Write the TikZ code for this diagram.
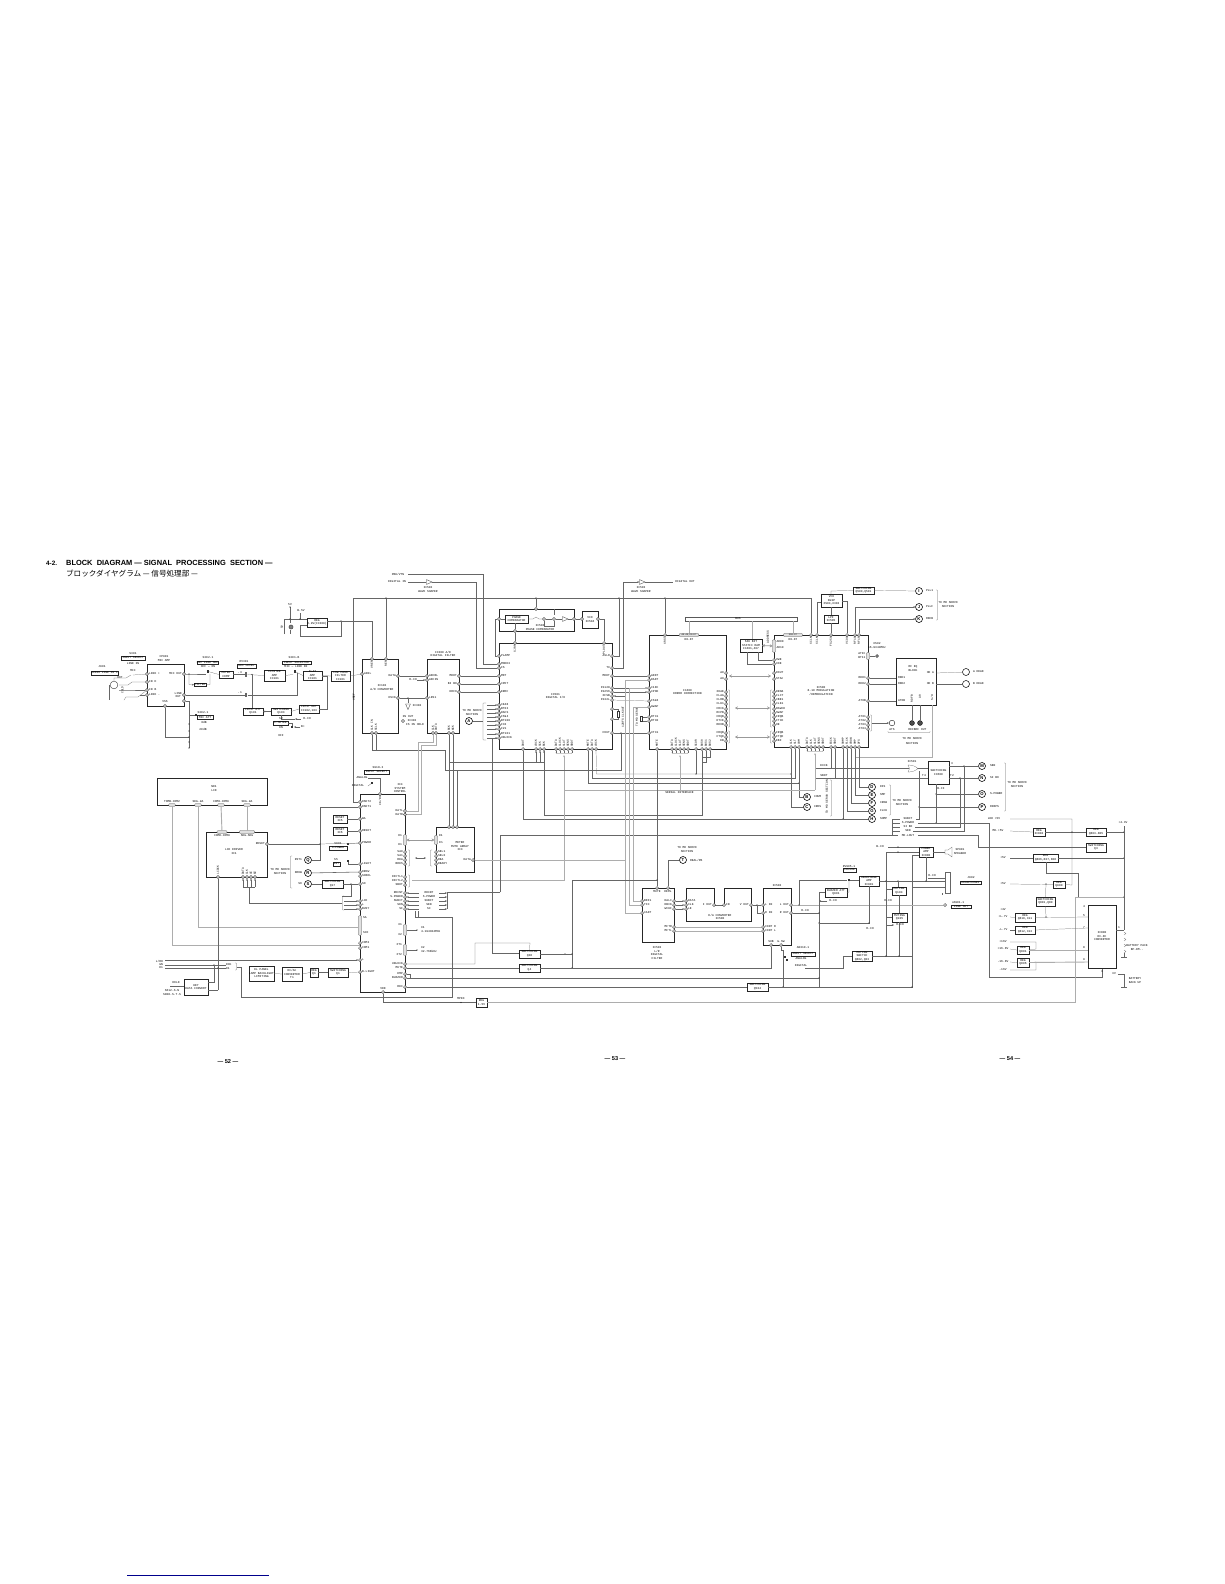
\documentclass[tikz,border=0pt]{standalone}
\usepackage{fontspec}
\setmainfont{Liberation Sans}
\setsansfont{Liberation Sans}
\setmonofont{Liberation Mono}
\newfontfamily\cjkf{Noto Sans CJK JP}
\usetikzlibrary{arrows.meta,shapes.geometric}
\newcounter{tn}
\tikzset{
 x=0.05cm,y=-0.05cm,
 >={Stealth[length=3pt,width=2.4pt]},
 w/.style={line width=.32pt,draw=black!60},
 bus/.style={line width=1.3pt,draw=black!32},
 busa/.style={line width=1.1pt,draw=black!40,{Stealth[length=4pt,width=4.5pt]}-{Stealth[length=4pt,width=4.5pt]}},
 tx/.style={font=\ttfamily\fontsize{4.2}{5}\selectfont,inner sep=0pt,outer sep=0pt,align=center,text=black},
 bxs/.style={draw=black!85,line width=.5pt,fill=white,inner sep=0pt,outer sep=0pt,align=center,font=\ttfamily\fontsize{4.2}{5}\selectfont,text=black},
 ics/.style={line width=.9pt,draw=black!85},
 pn/.style={circle,draw=black!70,fill=black!18,line width=.3pt,minimum size=4.6pt,inner sep=0pt,outer sep=0pt},
 ltr/.style={circle,draw=black,line width=.8pt,fill=white,minimum size=10pt,inner sep=0pt,outer sep=0pt,font=\sffamily\bfseries\fontsize{6}{6}\selectfont},
 bar/.style={rounded corners=1.2pt,draw=black!70,fill=black!12,line width=.3pt,inner sep=0pt,outer sep=0pt},
 swn/.style={rectangle,fill=black!80,minimum width=3pt,minimum height=3.5pt,inner sep=0pt,outer sep=0pt},
 buf/.style={isosceles triangle,isosceles triangle stretches,draw=black!85,line width=.4pt,fill=white,minimum width=7pt,minimum height=8pt,inner sep=0pt,outer sep=0pt},
}
\newcommand{\lb}[4][]{\stepcounter{tn}\node[tx,#1] (t\arabic{tn}) at (#2,#3) {#4};}
\newcommand{\bx}[7][]{\pgfmathsetmacro\bw{(#5-#3)*0.05}\pgfmathsetmacro\bh{(#6-#4)*0.05}%
 \node[bxs,#1,minimum width=\bw cm,minimum height=\bh cm] (#2) at ({(#3+#5)/2},{(#4+#6)/2}) {#7};}
\newcommand{\pn}[3]{\node[pn] (#1) at (#2,#3) {};}
\newcommand{\pL}[4]{\pn{#1}{#2}{#3}\lb[anchor=west]{#2+2.2}{#3}{#4}}
\newcommand{\pR}[4]{\pn{#1}{#2}{#3}\lb[anchor=east]{#2-2.2}{#3}{#4}}
\newcommand{\pT}[4]{\pn{#1}{#2}{#3}\lb[rotate=90,anchor=east]{#2}{#3+2.2}{#4}}
\newcommand{\pB}[4]{\pn{#1}{#2}{#3}\lb[rotate=90,anchor=west]{#2}{#3-2.2}{#4}}
\newcommand{\dt}[2]{\fill[black!90] (#1,#2) circle (.7);}
\newcommand{\sw}[3]{\node[swn] (#1) at (#2,#3) {};}
\newcommand{\cpc}[2]{\draw[w] (#1-.6,#2-2.2) -- (#1-.6,#2+2.2) (#1+.6,#2-2.2) -- (#1+.6,#2+2.2);}
\newcommand{\brR}[3]{\draw[line width=.3pt,black!60,rounded corners=.8pt] (#1,#2) -- (#1+1.5,#2) -- (#1+1.5,#3) -- (#1,#3);}
\newcommand{\brL}[3]{\draw[line width=.3pt,black!60,rounded corners=.8pt] (#1,#2) -- (#1-1.5,#2) -- (#1-1.5,#3) -- (#1,#3);}
\newcommand{\brD}[3]{\draw[line width=.3pt,black!60,rounded corners=.8pt] (#1,#3) -- (#1,#3+1.5) -- (#2,#3+1.5) -- (#2,#3);}
\begin{document}
\begin{tikzpicture}
\useasboundingbox (0,0) rectangle (1224,1584);
\fill[white] (0,0) rectangle (1224,1584);
%%% titles
\node[anchor=west,inner sep=0pt,font=\sffamily\bfseries\fontsize{9}{8}\selectfont] (ttl0) at (46,563) {4-2.};
\node[anchor=west,inner sep=0pt,font=\sffamily\bfseries\fontsize{10.6}{8}\selectfont] (ttl1) at (66,563) {BLOCK\ \ DIAGRAM — SIGNAL\ \ PROCESSING\ \ SECTION —};
\node[anchor=west,inner sep=0pt,font=\cjkf\fontsize{10.8}{8}\selectfont] (ttl2) at (66,574) {ブロックダイヤグラム — 信号処理部 —};
\node[inner sep=0pt,font=\sffamily\bfseries\fontsize{8}{8}\selectfont] (pg52) at (228,1062) {— 52 —};
\node[inner sep=0pt,font=\sffamily\bfseries\fontsize{8}{8}\selectfont] (pg53) at (615,1059) {— 53 —};
\node[inner sep=0pt,font=\sffamily\bfseries\fontsize{8}{8}\selectfont] (pg54) at (1010,1059) {— 54 —};
\draw[line width=1pt,blue!55!black] (127,1575) -- (269,1575);

%%% ---- input section
\bx[ics]{cp901}{147}{664}{184}{706}{}
\lb{164}{657}{CP901}\lb{164}{660.5}{MIC AMP}
\pL{cpa}{147}{674}{LINE +}\pL{cpb}{147}{682}{IN H}\pL{cpc}{147}{690}{IN B}\pL{cpd}{147}{695}{LINE -}
\pR{cpo}{184}{674}{MIC OUT}\pR{cpl}{184}{695}{LINE\\OUT}\pn{cpm}{184}{701}
\pn{cpv}{165}{706}
\lb{165}{701.5}{VSS}
\lb{102}{667}{J901}
\bx{j901}{91}{671}{118}{675}{AUDIO LINE IN L}
\node[circle,draw=black!85,line width=.5pt,minimum size=11pt,inner sep=0pt] (hd) at (114,685) {};
\lb{120}{678}{HOT}
\lb{133}{654}{S301}\bx{s301}{121}{656}{145}{660}{INPUT SELECT}
\lb{133}{663.5}{LINE IN}\lb{133}{671}{MIC}
\lb[rotate=90]{122.5}{690}{COLD}
\coordinate (gj) at (108.7,700);
\draw[w] (hd) -- (108.7,685) -- (gj);
\draw[w] (133,675) -- (cpa);
\draw[w] (hd.north) -- (114,678) -- (126,678) -- (131,675);
\draw[w] (119,685) -- (128,685) -- (132,682) -- (cpb);
\draw[w] (119,690) -- (126,690) -- (cpc);
\draw[w] (cpc) -- (138,697) -- (126,697) -- (124,700);
\draw[w] (cpd) -- (140,695);
%% mic out
\draw[w] (cpo) -- (189,674) -- (205.5,674);
\dt{189}{674}
\lb{208}{658}{S302-1}\bx{s302}{197}{661}{218}{664.5}{MIC LINE SEL}
\lb{208}{667}{OFF — ON}
\sw{sw1}{208}{671.5}
\bx{filt}{194}{683}{206}{686.5}{FILTER}
\draw[w,->] (189,674) -- (189,684.5) -- (filt.west);
\draw[w] (filt.east) -- (210,684.5) -- (210,674);
\draw[w] (sw1) -- (219,674.5);
\bx{mut}{219}{671}{233}{678}{MUTER\\COMP}
\lb{244}{662}{RV301}\bx{rv301}{237}{664}{256}{668}{REC LEVEL}
\bx{lima}{264}{670}{285}{681}{LIMITER\\AMP\\IC101}
\draw[w] (mut.east) -- (244.5,674.5);
\cpc{246}{674.5}
\draw[w] (247.5,674.5) -- (lima.west);
\dt{252}{674.5}
\lb{240}{672.5}{-\,3}
\lb{294}{658}{S301-B}\bx{s301b}{282}{661}{311}{664.5}{INPUT SELECTOR}
\lb{296}{667}{MIC — LINE IN}
\sw{sw2}{295}{671.5}
\draw[w] (lima.east) -- (293,674.5);
\bx{flat}{303}{671}{322}{680}{FLAT\\AMP\\IC101}
\bx{lpf}{331}{671}{350}{681}{LOW PASS\\FILTER\\IC101}
\draw[w] (sw2) -- (flat.west);
\draw[w] (flat.east) -- (lpf.west);
\draw[w] (cpl) -- (244.5,695);
\cpc{246}{695}
\lb{240}{693}{-\,1}
\draw[w] (247.5,695) -- (297,695) -- (297,673);
\bx{latt}{243}{708}{263}{715}{LIMIT ATT\\Q101}
\bx{sq103}{271}{708}{291}{715}{SWITCHING\\Q103}
\bx{ldet}{299}{705}{319}{713}{LIMIT DET\\IC102,103}
\draw[w] (252,674.5) -- (252,708);
\draw[w,->] (sq103.west) -- (latt.east);
\draw[w] (ldet.west) -- (sq103.east);
\draw[w] (ldet.east) -- (327,709) -- (327,676) -- (322,676);
\draw[w] (281,715) -- (281,719) -- (295,719);
\draw[w,<-] (295,719) -- (301,719);
\lb{307}{719}{R-CH}
\bx{lmet}{273}{721}{288}{725}{L.METER}
\lb{281}{718.5}{S2}
\lb{281}{728}{ON}\lb{281}{736}{OFF}
\sw{sw3}{292}{727}
\draw[w,->] (300,727) -- (294,727);
\lb{303}{727}{B+}
\draw[w] (288,723) -- (292,723) -- (sw3);
%% att
\draw[w] (cpm) -- (189,701) -- (189,748);
\draw[w] (189,715) -- (195,715);
\sw{sw4}{196}{715}
\lb{203}{713}{S302-1}\bx{sat}{197}{715.5}{213}{719}{MIC ATT}
\lb{204}{722}{0dB}\lb{203}{729}{20dB}
\draw[w] (cpv) -- (165,737) -- (189,737);
\foreach \yy in {724,731,737,742}{\dt{189}{\yy}}
\dt{189}{748}
%% regulator top
\lb{290}{605}{5V}\lb{301}{611}{B.5V}
\bx{reg1}{307}{618}{327}{627}{REG\\6.9V(IC309)}
\coordinate (r5) at (290,607);
\coordinate (rb) at (300,613);
\draw[w] (r5) -- (290,623);
\draw[w] (rb) -- (300,619);
\draw[w] (284,634) -- (284,619) -- (307,619);
\dt{290}{619}\dt{300}{619}\dt{290}{607}
\node[circle,draw=black!85,fill=black!50,line width=.4pt,minimum size=6pt,inner sep=0pt] (q1) at (291,627) {};
\draw[w] (290,630) -- (290,634);
\dt{341}{621}
\draw[w] (341,621) -- (341,636) -- (300,636) -- (300,625) -- (307,625);
\draw[w] (327,621) -- (372,621);
\lb[rotate=90]{282}{627}{5V}
%%% ---- A/D + filter
\bx[ics]{ic102}{362}{659}{398}{733}{}
\lb{382}{686}{IC102}\lb{382}{689.5}{A/D CONVERTER}
\pT{adr}{372}{659}{VREF}\pT{adf}{386}{659}{REF}
\pL{ain}{362}{674}{AINL}\pR{add}{398}{676}{DATA}\pR{adl}{398}{698}{HSCK}
\pB{adk}{372}{733}{CLK IN}\pB{ads}{376}{733}{SCLK}
\bx[ics]{ic300}{427}{659}{459}{733}{}
\lb{443}{652}{IC300 A/D}\lb{443}{655.5}{DIGITAL FILTER}
\pL{fa}{427}{676}{ADCBL}\pL{fb}{427}{680}{ADCIN}\pL{fc}{427}{698}{LRS1}
\pR{fd}{459}{676}{MDDT}\pR{fe}{459}{684}{BI BO}\pR{ff}{459}{692}{ERFO}
\pB{fg}{433}{733}{CLK}\pB{fh}{436}{733}{DATA}\pB{fi}{449}{733}{BCK}\pB{fj}{453}{733}{WCK}
\draw[w] (lpf.east) -- (ain);
\draw[w] (adr) -- (372,621);
\draw[w] (add) -- (fa);
\draw[w,->] (417,680) -- (fb);
\lb{413}{680}{R-CH}
\draw[w] (adl) -- (fc);
\dt{408}{698}
\draw[w] (408,698) -- (408,703);
\node[buf,shape border rotate=270] (b301) at (408,705.5) {};
\lb{417}{706}{IC302}
\lb{408}{717}{IN OUT}
\lb{415}{725}{FS IN HOLD}
\node[pn] (fsp) at (403,721) {};
\lb{412}{721}{IC302}
%% VREF rail
\draw[w] (353,802) -- (353,598) -- (811,598);
\draw[w] (adf) -- (386,598);
\foreach \xx in {386,536,619,665}{\dt{\xx}{598}}
\lb[rotate=90]{354}{697}{VREF}
%%% ---- top
\lb{398}{574}{PBK/VTN}\lb{397}{582}{DIGITAL IN}
\node[buf] (b502) at (428,582) {};
\lb{428}{588}{IC502}\lb{428}{592}{WAVE SHAPER}
\coordinate (pbk) at (408,574);
\coordinate (dgi) at (408,582);
\draw[w] (dgi) -- (b502.west);
\node[buf] (b503) at (641,582) {};
\lb{641}{588}{IC503}\lb{641}{592}{WAVE SHAPER}
\lb{685}{582}{DIGITAL OUT}
\coordinate (dgo) at (673,582);
\draw[w] (b503.east) -- (dgo);
%%% ---- digital I/O
\bx[ics]{ic501}{499}{643}{612}{749}{IC501\\DIGITAL I/O}
\foreach \n/\y/\t in {pa/656/PLAMP,pb/664/MODE3,pc/668/FS,pd/676/MDT,pe/684/CPDT,pf/692/ERRF,pg/705/CK48,ph/709/BT03,pi/713/DAFS,pj/717/FS94,pk/721/BT100,pl/725/F33,pm/729/F21,pn1/734/BT101,po/738/UNLOCK}{\pL{\n}{499}{\y}{\t}}
\foreach \n/\y/\t in {qa/656/ASLR,qb/668/TX,qc/676/MDDT,qd/688/FS128,qe/692/FS256,qf/696/XFSB,qg/700/FS32L,qh/709/,qi/719/,qj/733/FOUT}{\pR{\n}{612}{\y}{\t}}
\pT{sjr}{515}{643}{SJRP}\pT{plo}{604}{643}{PLOUT}
\foreach \n/\x/\t in {ra/523/DOUT,rb/536/LRCK,rc/540/SCK,rd/544/BCK,re/556/DATA,rf/560/CLOCK,rg/564/XLAT,rh/568/SENS,ri/572/SBDT,rj/588/MUTE,rk/592/DATA,rl/596/LRCK}{\pB{\n}{\x}{749}{\t}}
\draw[w] (pbk) -- (483,574) -- (483,664) -- (pb);
\draw[w] (b502.east) -- (476,582) -- (476,668) -- (pc);
\draw[w] (fd) -- (pd);\draw[w] (fe) -- (pe);\draw[w] (ff) -- (pf);
%% servo bracket
\node[ltr] (cA) at (469,721) {A};
\lb{472}{711}{TO MD SERVO}\lb{472}{714.5}{SECTION}
\draw[line width=.3pt,black!60,rounded corners=.8pt] (486,703) -- (483,703) -- (483,740) -- (486,740);
\draw[w] (cA) -- (483,721);
\foreach \n in {pg,ph,pi,pj,pk,pl,pm,pn1,po}{\draw[w,<-] (\n) -- ++(-12,0);}
%% phase comp
\draw[ics] (499,609) rectangle (574,631);
\bx[ics]{pcmp}{505}{615}{528}{623}{PHASE\\COMPARATOR}
\lb{540}{626}{IC503}\lb{540}{629.5}{PHASE COMPARATOR}
\pn{ph1}{499}{619}\pn{ph2}{536}{609}\pn{ph3}{515}{631}\pn{ph4}{544}{619}\pn{ph5}{554}{619}\pn{ph6}{574}{619}
\bx[line width=.8pt]{vco1}{582}{611}{598}{628}{VCO\\IC504}
\pn{ph7}{582}{619}\pn{ph8}{598}{619}
\draw[w] (ph1) -- (pcmp.west);
\draw[w] (pcmp.east) -- (533,619) -- (536,617) -- (539,619) -- (ph4);
\draw[w] (ph4) -- (ph5);
\draw[w] (ph4) -- (544,626) -- (554,626) -- (ph5);
\draw[w,line width=.7pt] (554,609) -- (554,615);
\node[buf] (bvc) at (564,619) {};
\draw[w] (ph5) -- (bvc.west);\draw[w] (bvc.east) -- (ph6);
\draw[w] (ph6) -- (ph7);
\draw[w] (ph8) -- (604,619) -- (plo);
\draw[w] (ph1) -- (495,619) -- (495,656) -- (pa);
\draw[w] (ph3) -- (sjr);
\draw[w] (536,598) -- (ph2);
\draw[w] (515,623) -- (ph3);
%% right of 501
\draw[w] (qa) -- (619,656) -- (619,598);
\draw[w,->] (qb) -- (623,668) -- (623,582) -- (b503.west);
%%% ---- error correction
\bx[ics]{ic400}{649}{635}{726}{749}{IC400\\ERROR CORRECTION}
\foreach \n/\y/\t in {sa/676/ADDT,sb/680/DADT,sc/688/C1DC,sd/692/CPOD,se/701/FS94,sf/707/GWAP,sg/717/RT31,sh/721/RT30,si/733/XT31}{\pL{\n}{649}{\y}{\t}}
\foreach \n/\y/\t in {ua/692/XOAE,ub/696/FLAG,uc/700/CLRB,ud/704/CLK1,ue/709/FRCK,uf/713/RCPB,ug/717/FRQB,uh/721/ETCE,ui/725/RDOB,uj/733/FRQB,uk/737/FTQD,ul/741/EB}{\pR{\n}{726}{\y}{\t}}
\pR{ta}{726}{673}{A0}\pR{tb}{726}{679}{A9}
\pT{xr}{665}{635}{XRST}
\node[bar,minimum width=28pt,minimum height=4.4pt] (xbar) at (689,635) {\ttfamily\fontsize{3.2}{3.2}\selectfont A0-A9,D0-D7};
\lb{689}{640}{D0-D7}
\foreach \n/\x/\t in {va/657/MUTE,vb/672/DATA,vc/676/CLOCK,vd/680/XLAT,ve/684/SENS,vf/688/SBDT,vg/696/SCOR,vh/702/BUS0,vi/706/BUS1,vj/710/BUS2}{\pB{\n}{\x}{749}{\t}}
\draw[w] (xr) -- (665,598);
\draw[w] (qc) -- (sa);
\draw[w,->] (qd) -- (sc);\draw[w,->] (qe) -- (sd);
\draw[w,<-] (qf) -- (625,696);
\draw[w] (qg) -- (se);
\draw[w] (qh) -- (618,709) -- (618,719) -- (qi);
\node[draw=black!80,line width=.4pt,minimum width=2pt,minimum height=8pt,inner sep=0pt,fill=white] (xt1) at (618,714) {};
\lb[rotate=90]{623}{717}{128FS CLKOUT}
\lb[rotate=90]{637}{717}{TO MD SERVO}
\draw[w] (sg) -- (641,717) -- (641,721) -- (sh);
\node[draw=black!80,line width=.4pt,minimum width=2pt,minimum height=7pt,inner sep=0pt,fill=white] (xt2) at (641,719) {};
\draw[w] (qj) -- (si);\dt{621}{733}
%%% ---- BUS
\draw[draw=black!65,line width=.4pt,fill=white] (685,617) rectangle (797,621);
\lb{738}{619}{BUS}
%%% ---- SRAM
\bx[line width=.8pt]{sram}{740}{639}{762}{652}{64K BIT\\STATIC RAM\\IC401,407}
\draw[bus] (689,621) -- (689,633);
\draw[bus] (752,621) -- (752,639);
\draw[bus] (793,621) -- (793,633);
\lb[rotate=90]{768}{637}{ADDRESS}
%%% ---- modulation
\bx[ics]{ic500}{774}{635}{868}{747}{IC500\\8-10 MODULATION\\/DEMODULATION}
\node[bar,minimum width=4pt,minimum height=18pt] (adb) at (774,646) {};
\lb[anchor=west]{776.5}{642}{AD00}\lb[anchor=west]{776.5}{648}{AD10}
\foreach \n/\y/\t in {wa/660/XWE,wb/664/XOE,xa/692/DRAB,xb/696/FLCT,xc/700/CBE1,xd/704/CLK1,xe/709/RAWCD,xf/713/SWAP,xg/717/FRQB,xh/721/FTCE,xi/725/OE,xj/733/FRQB,xk/737/FTQD,xl/741/EBF}{\pL{\n}{774}{\y}{\t}}
\pL{wc}{774}{673}{DOUT}\pL{wd}{774}{679}{STAn}
\node[bar,minimum width=27pt,minimum height=4.4pt] (dbar) at (793,635) {\ttfamily\fontsize{3.2}{3.2}\selectfont XD0-D7};
\lb{793}{640}{D0-D7}
\pT{y1}{811}{635}{XCLK}\pT{y2}{817}{635}{XCLK}\pT{y3}{831}{635}{FS256}\pT{y4}{847}{635}{VCOO}\pT{y5}{855}{635}{RF18}\pT{y6}{859}{635}{RF1F}
\node[bar,minimum width=4.4pt,minimum height=10pt] (abar) at (868,656) {};
\lb[anchor=east]{865.5}{654}{ATIC}\lb[anchor=east]{865.5}{658}{BT11}
\pR{za}{868}{678}{RDD1}\pR{zb}{868}{684}{RDD2}\pR{zc}{868}{701}{ATOB}
\pR{zd}{868}{717}{AT01}\pR{ze}{868}{721}{AT02}\pR{zf}{868}{725}{AT03}\pR{zg}{868}{729}{AT04}
\foreach \n/\x/\t in {da/791/CLK,db/795/XLT,dc/799/CHM,de/807/DATA,df/811/CLK,dg/815/XLAT,dh/819/SENS,di/823/SBDT,dj/831/EXCK,dk/835/SBDT,dl/843/SHMP,dm/847/FLCK,dn/851/CROW,do/855/SMP,dp/859/DFS}{\pB{\n}{\x}{747}{\t}}
\draw[w] (y1) -- (811,598);
\draw[w] (747,652) -- (747,664) -- (wb);
\draw[w] (758,652) -- (758,660) -- (wa);
\draw[busa] (sram.east) -- (adb.west);
\draw[busa] (729,676) -- (771,676);
\draw[busa] (735,708) -- (770,708);
\draw[busa] (735,737) -- (770,737);
\brR{728}{690}{727}\brR{728}{731}{743}
\brL{772}{690}{727}\brL{772}{731}{743}
\brR{870}{715}{731}
%% VCO top
\bx[line width=.7pt]{vcd}{821}{594}{842}{607}{VCO\\DGSP\\XS04,X302}
\bx{lpf2}{824}{615}{838}{623}{LPF\\IC505}
\bx[line width=.7pt]{swq}{853}{587}{874}{594}{SWITCHING\\Q500,Q501}
\draw[w] (831,607) -- (831,615);
\draw[w] (831,623) -- (y3);
\draw[w] (y2) -- (817,602) -- (821,602);
\draw[w] (842,601) -- (847,601) -- (y4);
\draw[w] (831,594) -- (831,591) -- (swq.west);
\node[ltr] (cI) at (919,591) {I};\node[ltr] (cJ) at (919,607) {J};\node[ltr] (cK) at (919,619) {K};
\lb[anchor=west]{926}{591}{PLL1}\lb[anchor=west]{926}{607}{PLLF}\lb[anchor=west]{926}{619}{RDFB}
\brR{936}{590}{620}
\lb{948}{603}{TO MD SERVO}\lb{948}{607}{SECTION}
\draw[w] (swq.east) -- (cI);
\draw[w,<-] (cJ) -- (y5 |- cJ);
\draw[w] (y5 |- cJ) -- (y5);
\draw[w,<-] (cK) -- (y6 |- cK);
\draw[w] (y6 |- cK) -- (y6);
%% crystal
\lb{877}{644}{XS02}\lb{877}{648}{16.9344MHz}
\node[pn,fill=black!50] (xs) at (877,656) {};
\draw[w] (abar) -- (xs);
%% RF EQ
\bx[ics]{rfe}{896}{658}{936}{705}{}
\lb{913}{667}{RF EQ}\lb{913}{670.5}{BLOCK}
\lb[anchor=west]{898}{678}{RDD1}\lb[anchor=west]{898}{684}{RDD2}\lb[anchor=west]{898}{701}{ATOB}
\lb[anchor=east]{934}{673}{HD A}\lb[anchor=east]{934}{684}{HD B}
\draw[w] (za) -- (rfe.west |- za);\draw[w] (zb) -- (rfe.west |- zb);\draw[w] (zc) -- (rfe.west |- zc);
\node[circle,draw=black,line width=.7pt,fill=white,minimum size=10pt,inner sep=0pt] (hda) at (966,672) {};
\node[circle,draw=black,line width=.7pt,fill=white,minimum size=10pt,inner sep=0pt] (hdb) at (966,684) {};
\lb[anchor=west]{973}{672}{A HEAD}\lb[anchor=west]{973}{684}{B HEAD}
\draw[w] (936,673) -- (hda);\draw[w] (936,684) -- (hdb);
\lb[rotate=90,anchor=east]{912}{695}{RDFB}
\lb[rotate=90,anchor=east]{920}{695}{A0}
\lb[rotate=90,anchor=east]{932}{695}{S/H}
\node[circle,draw=black,line width=.5pt,fill=black!70,minimum size=7pt,inner sep=0pt] (cr1) at (912,723) {};
\node[circle,draw=black,line width=.5pt,fill=black!70,minimum size=7pt,inner sep=0pt] (cr2) at (920,723) {};
\node[circle,draw=black,line width=.5pt,fill=white,minimum size=8pt,inner sep=0pt] (cats) at (892,723) {};
\lb{892}{729.5}{ATS}\lb{912}{729.5}{RDFB}\lb{921}{729.5}{RF OUT}
\brD{888}{930}{731}
\lb{912}{739}{TO MD SERVO}\lb{912}{744}{SECTION}
\draw[w] (cr1) -- (912,705);\draw[w] (cr2) -- (920,705);
\draw[w,->] (872,723) -- (cats);
\draw[bus] (932,705) -- (932,757) -- (855,757) -- (do);
%%% ---- mid wires
\node[ltr] (cB) at (807,797) {B};\node[ltr] (cC) at (807,807) {C};
\lb[anchor=west]{814}{797}{CHUM}\lb[anchor=west]{814}{807}{CRDS}
\lb[rotate=90]{827}{797}{TO MD SERVO SECTION}
\brR{830}{780}{816}
\node[ltr] (cD) at (872,787) {D};\node[ltr] (cE) at (872,795) {E};\node[ltr] (cF) at (872,803) {F};\node[ltr] (cG) at (872,811) {G};\node[ltr] (cH) at (872,819) {H};
\lb[anchor=west]{880}{787}{DFS}\lb[anchor=west]{880}{795}{SMP}\lb[anchor=west]{880}{803}{CROW}\lb[anchor=west]{880}{811}{FLCK}\lb[anchor=west]{880}{819}{SHMP}
\brR{889}{785}{815}
\lb{902}{801}{TO MD SERVO}\lb{902}{805}{SECTION}
\draw[w] (dp) -- (859,787) -- (cD);
\draw[w] (do) -- (855,795) -- (cE);
\draw[w] (dn) -- (851,803) -- (cF);
\draw[w] (dm) -- (847,811) -- (cG);
\draw[w] (dl) -- (843,819);\dt{843}{819}
\draw[w] (ra) -- (523,819) -- (cH);
\draw[w] (rd) -- (544,815) -- (702,815) -- (vh);
\draw[w] (544,762) -- (449,762);
\foreach \n in {rb,rc,rd}{\draw[w,->] (\n |- 0,762) -- (\n);}
\draw[w] (rj) -- (588,783) -- (799,783);\dt{799}{783}
\draw[w] (rk) -- (592,778) -- (795,778) -- (db);
\draw[w] (rl) -- (596.5,774) -- (791,774);\dt{791}{774}
\draw[w] (vg) -- (696,774);\dt{696}{774}
\draw[w] (da) -- (791,807) -- (cC);
\draw[w] (dc) -- (799,797) -- (cB);
\draw[w] (vi) -- (706,762) -- (702,762);
\draw[w] (vj) -- (710,757) -- (702,757);
\lb{679.5}{793}{SERIAL INTERFACE}
\brD{556}{572}{752}\brD{672}{688}{752}\brD{807}{823}{750}
\foreach \n in {re,rf,rg,rh,ri,vb,vc,vd,ve,vf,de,df,dg,dh,di}{\draw[w] (\n) -- ++(0,3.5);}
\draw[bus,<-] (564,755) -- (564,880) -- (412,880);
\draw[bus] (564,790) -- (815,790);
\draw[bus,<-] (680,755) -- (680,790);
\draw[bus,<-] (815,753) -- (815,790);
\draw[w] (621,733) -- (621,770) -- (445,770) -- (445,750) -- (372,750) -- (adk);
\draw[w] (ads) -- (376,750);
\draw[w] (fi) -- (449,827);
\draw[w] (fj) -- (453,827);
\draw[w] (457,770) -- (457,827);
\draw[w] (po) -- (492,738) -- (492,953) -- (519,953);
%% gate and switching
\lb{824}{766}{EXCK}\lb{824}{776}{SBDT}
\draw[w] (dj) -- (831,768.5);
\draw[w] (dk) -- (835,778);
\draw[w] (816,768.5) -- (909,768.5);
\draw[w] (816,778) -- (928,778);
\draw[w,fill=white] (908,765) .. controls (912,765) and (915,766) .. (918,768.5) .. controls (915,771) and (912,772) .. (908,772) .. controls (910,770) and (910,767) .. (908,765);
\lb{912}{762}{IC501}
\bx[ics]{sc1}{928}{761}{949}{784}{SWITCHING\\IC600}
\draw[w] (918,768.5) -- (928,768.5);
\lb{952}{764}{3}\lb{952}{775.5}{T2}\lb{924}{775.5}{T4}\lb{941}{789}{B-II}
\node[ltr] (cM) at (982,766) {M};\node[ltr] (cN) at (982,778) {N};\node[ltr] (cO) at (982,794) {O};\node[ltr] (cP) at (982,807) {P};
\lb[anchor=west]{990}{766}{SEN}\lb[anchor=west]{990}{778}{SI BO}\lb[anchor=west]{990}{794}{S.POWER}\lb[anchor=west]{990}{807}{RIBPS}
\brR{1004}{763}{811}
\lb{1017}{783}{TO MD SERVO}\lb{1017}{787}{SECTION}
\draw[w] (949,766) -- (cM);\draw[w] (949,778) -- (cN);
\dt{964}{766}\dt{960}{778}\dt{936}{794}\dt{919}{807}\dt{936}{823}
\draw[w] (936,794) -- (cO);\draw[w] (919,807) -- (cP);
\lb{908}{819}{SUBCT}\lb{908}{823}{S.POWER}\lb{908}{827}{SI BO}\lb{908}{831}{SEN}\lb{908}{835.5}{MD.LOUT}
\draw[w] (892,819) -- (892,835.5) ;
\foreach \yy in {819,823,827,831}{\draw[w] (892,\yy) -- (900,\yy);}
\draw[w] (919,771) -- (919,819) -- (916,819);
\draw[w] (936,784) -- (936,823);
\draw[w] (918,823) -- (989,823) -- (989,977) -- (1102,977) -- (1102,968);
\draw[w] (915,827) -- (960,827) -- (960,778);
\draw[w] (913,831) -- (964,831) -- (964,766);
\draw[w] (918,835.5) -- (978,835.5) -- (978,847) -- (1086,847);
\draw[w] (892,835.5) -- (898,835.5);
\draw[w] (500,892) -- (500,835.5) -- (892,835.5);
%%% ---- D/A section
\bx[ics]{ic503}{642}{888}{674}{942}{}
\lb{657}{948}{IC503}\lb{657}{951.5}{L/R}\lb{657}{955}{DIGITAL}\lb{657}{958.5}{FILTER}
\pB{mm}{657}{888}{}\lb{657}{891.5}{MUTE}\pB{ml}{668}{888}{}\lb{668}{891.5}{DEML}
\pL{cd1}{642}{901}{BDF1}\pL{cd2}{642}{905}{TXC}\pL{cd3}{642}{913}{CADT}
\pR{ce1}{674}{901}{DALC}\pR{ce2}{674}{905}{DBCK}\pR{ce3}{674}{909}{WCKF}
\pR{ce4}{674}{927}{MFTR}\pR{ce5}{674}{931}{MFTL}
\draw[bus] (sb) -- (625,680) -- (625,913) -- (cd3);
\draw[bus] (sc) -- (629,688) -- (629,905) -- (cd2);
\draw[bus] (sf) -- (633,707) -- (633,901) -- (cd1);
\draw[ics] (686,888) -- (714,888) -- (714,905) -- (724,905) -- (724,888) -- (751,888) -- (751,921) -- (686,921) -- cycle;
\pL{da1}{686}{901}{DATA}\pL{da2}{686}{905}{CLK}\pL{da3}{686}{909}{LE}
\pR{da4}{714}{905}{I OUT}\pL{da5}{724}{905}{IN}\pR{da6}{751}{905}{V OUT}
\lb{720}{915}{D/A CONVERTER}\lb{720}{919}{IC500}
\draw[w] (da4) -- (da5);
\draw[w,->] (ce1) -- (da1);\draw[w,->] (ce2) -- (da2);\draw[w,->] (ce3) -- (da3);
\bx[ics]{ic502}{763}{888}{791}{945}{}
\lb{777}{885.5}{IC502}
\pL{ea}{763}{905}{L IN}\pL{eb}{763}{913}{R IN}\pL{ec}{763}{927}{CONT R}\pL{ed}{763}{931}{CONT L}
\pR{ee}{791}{905}{L OUT}\pR{ef}{791}{913}{R OUT}
\pB{eg}{771}{945}{}\pB{eh}{781}{945}{}\lb{771}{941.5}{SUB}\lb{781}{941.5}{G.SW}
\draw[w] (da6) -- (ea);\dt{757}{905}\draw[w] (757,905) -- (757,913) -- (eb);
\draw[bus,line width=.9pt] (ce4) -- (ec);\draw[bus,line width=.9pt] (ce5) -- (ed);
\draw[w] (va) -- (mm);
\dt{657}{880}
\draw[w] (657,880) -- (572,880) -- (572,968);
\node[ltr] (cT) at (683,860) {T};
\lb[anchor=west]{690}{860}{REAL/PB}
\lb{687}{848}{TO MD SERVO}\lb{687}{852}{SECTION}
\draw[w] (ml) -- (668,860) -- (cT);
\bx[line width=.7pt]{s5a}{519}{950}{540}{958}{SWITCHING\\Q28}
\bx[line width=.7pt]{s5b}{519}{964}{540}{972}{SWITCHING\\Q4}
\bx[line width=.7pt]{s5c}{747}{983}{768}{991}{SWITCHING\\Q504}
\dt{572}{954}\dt{572}{968}\dt{565}{954}
\draw[w] (s5a.east) -- (572,954);
\draw[w] (s5b.east) -- (771,968) -- (eg);
\draw[w] (eh) -- (781,950) -- (783,950) -- (783,987);
\sw{sg1}{785}{957}
\dt{783}{987}
\draw[w] (s5c.east) -- (912,987) -- (912,855) -- (919,855);
\lb{803}{948}{AN310-1}\bx{ins}{791}{952}{815}{956}{INPUT SELECT}
\lb{801}{958.5}{ANALOG}\lb{801}{966}{DIGITAL}
\sw{sg2}{787}{960}
\draw[w] (805,968) -- (843,968) -- (843,956) -- (852,956);
%%% ---- audio out
\pn{jl}{945}{905}
\draw[bus,line width=.9pt] (ee) -- (jl);
\dt{799}{905}
\draw[w] (799,905) -- (799,880) -- (847,880);
\sw{vol}{849}{880}
\lb{849}{867}{RV905-1}\bx{vlb}{843}{868}{856}{872}{VOLUME}
\bx[line width=.7pt]{hpa}{859}{876}{879}{886}{HEADPHONE\\AMP\\IC901}
\draw[w] (vol) -- (859,880);
\bx{bzz}{825}{888}{847}{897}{BUZZER ATT\\Q901}
\draw[w] (bzz.east) -- (849,892) -- (vol);
\draw[w] (819,892) -- (825,892);
\draw[w] (819,892) -- (819,987);
\draw[w,->] (827,901) -- (819,901);\lb{833}{901}{R-CH}
\dt{819}{913}\dt{819}{923}\dt{819}{978}
\draw[w] (ef) -- (819,913);\lb{805}{911}{R-CH}
\draw[w] (819,923) -- (869,923) -- (869,886);
\dt{869}{923}\lb{870}{929}{R-CH}
\bx[line width=.7pt]{pwr}{919}{847}{933}{857}{POWER\\AMP\\IC800}
\bx{mq1}{892}{887}{906}{895}{MUTING\\Q104}
\bx{mq2}{892}{913}{907}{922}{MUTING\\Q105}
\bx[line width=.7pt]{msw}{852}{951}{872}{961}{MUTING\\SWITCH\\Q802,Q03}
\draw[w] (886,852) -- (886,956);
\draw[w] (886,852) -- (919,852);
\draw[w] (888,847) -- (919,847);\lb{880}{847}{B-CH}\dt{898}{847}\dt{898}{852}
\draw[w] (hpa.east) -- (946,881);
\dt{886}{881}\dt{898}{881}\dt{926}{881}
\draw[w] (898,881) -- (898,887);
\draw[w] (926,881) -- (926,857);
\draw[w] (886,889) -- (892,889);\draw[w] (886,917) -- (892,917);
\lb{888}{901}{R-CH}
\draw[w] (899,895) -- (899,913);
\draw[w] (899,922) -- (899,956);
\draw[w] (msw.east) -- (912,956);
\dt{886}{956}\dt{899}{956}\dt{912}{987}
\draw[w,->] (886,925) -- (894,925);\lb{900}{925}{R-CH}
\draw[w] (933,852) -- (945,852);
\draw[w,fill=white] (945,850) -- (948,850) -- (952,847) -- (952,857) -- (948,854) -- (945,854) -- cycle;
\lb{960}{850}{SP901}\lb{960}{854}{SPEAKER}
\draw[w,fill=white] (945,872) rectangle (950,893);
\draw[w] (928,878) -- (945,878);\lb{932}{876}{R-CH}
\draw[w] (912,887) -- (945,887);
\draw[w] (942,893) -- (942,895);
\lb{971}{878}{J902}\bx{hpj}{960}{881}{981}{884}{HEADPHONES}
\lb{958}{903}{JA901-1}\bx{loj}{951}{905}{971}{908}{LINE OUT}
%%% ---- system control
\bx[ics]{ic4}{360}{794}{405}{992}{}
\lb{400}{785}{IC4}\lb{400}{788.5}{SYSTEM}\lb{400}{792}{CONTROL}
\lb{378}{768}{S918-3}\bx{s918}{364}{770}{389}{774}{INPUT SELECT}
\lb{362}{778}{ANALOG}\lb{358}{786}{DIGITAL}
\sw{sw9}{372}{783}
\pT{ick}{380}{794}{CK/RX}
\draw[w] (368,778) -- (380,778) -- (ick);
\draw[w] (sw9) -- (368,786);
\foreach \n/\y/\t in {la/802/DSET2,lb/807/DSET1,lc/819/WA,ld/831/RESET,le/843/POWER,lf/864/LIGHT,lg/872/DROW,lh/876/SCBDL,li/884/SO,lj/901/LCD,lk/905/L/R,ll/909/BUSY,lm/943/COM2,ln/948/COM1,lo/960/L/R,lp/972/B.LIGHT}{\pL{\n}{360}{\y}{\t}}
\node[bar,minimum width=4.4pt,minimum height=28pt] (lbar) at (360,925.5) {};
\lb[anchor=west]{363}{918}{SA}\lb[anchor=west]{363}{933}{SCO}
\foreach \n/\y/\t in {ks1/811/DATL,ks2/814.5/DATR,rs1/852/SA0,rs2/856/SA1,rs3/860/REA,rs4/864/BRES,rs5/877/DFCTL1,rs6/881/DFCTL2,rs7/885/SBDT,rs8/893/RDCNT,rs9/897/S.POWER,rt1/901/SUBCT,rt2/905/SEN,rt3/909/SI,ru1/964/UNLOCK,ru2/968/MUTE,ru3/974/DMP,ru4/978/BUZZER,ru5/987/REC}{\pR{\n}{405}{\y}{\t}}
\draw[bus] (fg) -- (433,742) -- (418,742) -- (418,811) -- (ks1);
\draw[bus] (fh) -- (436,745) -- (421,745) -- (421,814.5) -- (ks2);
\node[bar,minimum width=4.4pt,minimum height=15pt] (dbr) at (405,840) {};
\lb[anchor=east]{402}{835.5}{D1}\lb[anchor=east]{402}{845}{Dn}
\node[bar,minimum width=4.4pt,minimum height=16pt] (xb1) at (405,930) {};
\lb[anchor=east]{402}{925}{X1}\lb[anchor=east]{402}{935}{X2}
\node[bar,minimum width=4.4pt,minimum height=16pt] (xb2) at (405,950) {};
\lb[anchor=east]{402}{945}{XT1}\lb[anchor=east]{402}{955}{XT2}
\pB{vdd}{383}{992}{}\lb{383}{988.5}{VDD}
\draw[w] (xb1) -- (417,930);\dt{417}{930}
\draw[w] (xb2) -- (417,950);\dt{417}{950}
\lb[anchor=west]{421}{927.5}{X1}\lb[anchor=west]{421}{931.5}{4.194304MHz}
\lb[anchor=west]{421}{947.5}{X2}\lb[anchor=west]{421}{951.5}{32.768kHz}
\draw[w] (353,802) -- (la);
%% meter
\bx[ics]{mtr}{436}{827}{474}{872}{}
\lb{460}{843}{METER}\lb{460}{846.5}{MUTE ARRAY}\lb{460}{850}{IC3}
\pn{mt1}{449}{827}\pn{mt2}{453}{827}\pn{mt3}{457}{827}
\node[bar,minimum width=4.4pt,minimum height=13pt] (mbar) at (436,840) {};
\lb[anchor=west]{439}{836}{D1}\lb[anchor=west]{439}{843}{Dn}
\pL{ms1}{436}{852}{SEL1}\pL{ms2}{436}{856}{SEL0}\pL{ms3}{436}{860}{REA}\pL{ms4}{436}{864}{READY}
\pR{mtd}{473}{860}{DATA}
\draw[busa] (dbr.east) -- (mbar.west);
\brR{408}{850}{866}\brL{432}{850}{866}
\draw[w,<->] (415,858) -- (426,858);
\brR{408}{875}{887}
\draw[bus] (mtd) -- (625,860);
%% bracket labels
\foreach \n/\y/\t in {rs8/893/RDCNT,rs9/897/S.POWER,rt1/901/SUBCT,rt2/905/SEN,rt3/909/SI}{\draw[w,<-] (\n) -- (419,\y);\draw[w,->] (439,\y) -- (447,\y);\lb{429}{\y}{\t}}
\draw[w] (447,892) -- (447,909);
\draw[w] (447,892) -- (500,892);
\draw[w] (241,967) -- (241,997) -- (452,997) -- (452,917) -- (415,917) -- (415,911);
\draw[w] (418,917) -- (418,911);
\draw[w] (ru1) -- (475,964) -- (475,943) -- (530,943) -- (s5a.north);
\draw[w] (ru2) -- (s5b.west);
\draw[w] (ru3) -- (410,974) -- (410,978);
\draw[w] (ru4) -- (819,978);
\draw[w] (ru5) -- (s5c.west);
\bx{rg15}{476}{998}{487}{1007}{REG\\1.5V}
\lb{461}{998.5}{MPEX}
\draw[w] (vdd) -- (383,1002.5) -- (rg15.west);
\draw[bus,line width=.9pt] (rg15.east) -- (1075,1002.5) -- (1075,897) -- (1124,897);
\dt{461}{1002.5}
%% left side of control
\bx[line width=.6pt]{rs5a}{333}{815}{347}{823}{RESET\\IC5}
\bx[line width=.6pt]{rs6a}{333}{827}{347}{835}{RESET\\IC6}
\bx{spw}{329}{846}{347}{850}{S.POWER}\lb{338}{844}{S901}
\bx{lgt}{333}{862}{340}{866}{LGT}\lb{336}{859.5}{S5}
\sw{swl}{348}{844}\sw{swg}{348}{861}
\draw[w] (rs5a.east) -- (lc);\draw[w] (rs6a.east) -- (ld);
\draw[w] (swl) -- (le);\draw[w] (swg) -- (348,864) -- (lf);
\node[ltr] (cQ) at (308,860) {Q};\node[ltr] (cR) at (308,873) {R};\node[ltr] (cS) at (308,884) {S};
\lb[anchor=east]{302}{860}{RST1}\lb[anchor=east]{302}{873}{DROW}\lb[anchor=east]{302}{884}{SO}
\brL{292}{856}{888}
\lb{280}{870}{TO MD SERVO}\lb{280}{874}{SECTION}
\draw[w] (320,844) -- (320,860) -- (cQ);
\draw[w] (320,844) -- (320,807) -- (lb);
\dt{320}{844}
\draw[w,line width=.8pt] (cR) -- (lg);
\bx[line width=.7pt]{sw17}{322}{880}{343}{888}{SWITCHING\\Q17}
\draw[w] (cS) -- (sw17.west);\draw[w] (sw17.east) -- (li);\dt{351}{884}
\draw[w] (351,884) -- (351,896) -- (342,896);
\brL{344}{896}{910}
\foreach \n in {lj,lk,ll}{\draw[w,->] (344,0 |- \n) -- (\n);}
\draw[w] (342,903) -- (249,903) -- (249,888);
%% LCD
\bx[ics]{lcd}{157}{778}{267}{805}{}
\lb{214}{787}{ND1}\lb{214}{791}{LCD}
\foreach \n/\x/\t in {lc1/172/TOMB-COM2,lc2/198/SEG-9A,lc3/221/COM0-COM9,lc4/247/SEG-9A}{\node[bar,minimum width=9pt,minimum height=4pt] (\n) at (\x,805) {};\lb{\x}{801.5}{\t}}
\bx[ics]{lcdr}{206}{832}{267}{877}{}
\lb{234}{850}{LCD DRIVER}\lb{234}{854}{IC1}
\node[bar,minimum width=14pt,minimum height=4pt] (ld1) at (222,832) {};
\node[bar,minimum width=22pt,minimum height=4pt] (ld2) at (247,832) {};
\lb{222}{835.5}{COMD-COM9}\lb{247}{835.5}{SEG-SEG}
\pR{lrs}{267}{844}{RESET}
\pn{lck}{218}{877}\lb[rotate=90,anchor=west]{218}{874.5}{LCDCK}
\foreach \n/\x/\t in {lq1/243/DATA,lq2/247/CLK,lq3/251/CE,lq4/255/BZ}{\pB{\n}{\x}{877}{\t}\draw[w,<-] (\n) -- ++(0,10);}
\draw[bus] (lc3) -- (ld1);\draw[bus] (lc4) -- (ld2);
\draw[w] (lrs) -- (320,844);
\draw[w] (320,844) -- (le);
\draw[bus] (lc2) -- (198,927) -- (358,927);
\draw[bus] (lc1) -- (172,945) -- (360,945);
\draw[w] (243,887) -- (255,887);
\draw[w] (lck) -- (218,990);
\lb[anchor=east]{163}{961}{L/RH}\lb[anchor=east]{163}{965}{GN}\lb[anchor=east]{163}{968}{D1}
\draw[w,<-] (lo) -- (165,960);
\draw[w] (165,965) -- (226,965);\draw[w] (165,968) -- (226,968);
\lb[anchor=west]{226}{965}{DCK}\lb[anchor=west]{226}{968.5}{D1}
\brR{235}{963}{970}
\draw[w] (237,967) -- (241,967);
\dt{214}{965}\dt{218}{968}
\bx[line width=.7pt]{key}{184}{979}{208}{995}{KEY\\DATA CONVERT}
\lb{176}{983}{HOLD}\lb{172}{991}{S612-S.N}\lb{172}{994.5}{S008-S.T.S}
\draw[w] (214,965) -- (214,982) -- (208,982);
\draw[w] (218,990) -- (208,990);
\draw[w] (170,986) -- (184,986);
\bx[line width=.7pt]{el}{249}{966}{274}{981}{EL PANEL\\LAMP BACKLIGHT\\LIMITING}
\bx[line width=.7pt]{dca}{282}{967}{302}{981}{DC/AC\\CONVERTER\\T1}
\bx[line width=.7pt]{rq}{310}{968}{318}{977}{REG\\Q1}
\bx[line width=.7pt]{sq}{328}{968}{348}{977}{SWITCHING\\Q1}
\draw[w] (sq.east) -- (lp);\draw[w] (rq.east) -- (sq.west);\draw[w] (dca.east) -- (rq.west);\draw[w] (el.east) -- (dca.west);
%%% ---- power
\lb{994}{819}{LED +5V}\lb{998}{831}{MD.+5V}\lb{1003}{858}{+5V}\lb{1003}{884}{+5V}
\lb{1003}{910}{+4V}\lb{1003}{917}{+L.7V}\lb{1003}{930}{-L.7V}\lb{1003}{942}{+16V}\lb{1003}{949}{+16.8V}\lb{1003}{962}{-16.8V}\lb{1003}{970}{-16V}
\bx{pr1}{1033}{828}{1045}{836}{REG\\IC802}
\bx{pr2}{1086}{828}{1106}{836}{REG\\Q803-805}
\bx{pr3}{1086}{843}{1106}{852}{SWITCHING\\Q3}
\bx{pr4}{1033}{854}{1058}{862}{REG\\Q806,807,808}
\bx{pr5}{1053}{881}{1065}{888}{REG\\Q900}
\bx{pr6}{1036}{897}{1055}{906}{SWITCHING\\Q801,Q80}
\bx{pr7}{1015}{913}{1035}{922}{REG\\Q810,311}
\bx{pr8}{1015}{926}{1035}{934}{REG\\Q812,313}
\bx{pr9}{1017}{946}{1029}{954}{REG\\Q801}
\bx{pra}{1017}{958}{1029}{967}{REG\\Q806}
\bx[ics]{dcd}{1088}{905}{1116}{968}{IC800\\DC-DC\\CONVERTER}
\foreach \t/\yy in {4/907,5/916,7/928,8/948,9/960}{\lb{1084}{\yy}{\t}}
\lb{1102}{972}{3}\lb{1119}{928}{1}
\lb{1123}{823}{+4.3V}
\coordinate (led) at (1010,819);\coordinate (mdv) at (1010,831);\coordinate (vcc1) at (1010,858);\coordinate (vcc2) at (1010,884);
\draw[w] (led) -- (1072,819) -- (1072,885) -- (pr5.east);
\draw[w] (mdv) -- (pr1.west);\draw[w] (pr1.east) -- (pr2.west);
\draw[w] (pr2.east) -- (1124,832);\dt{1072}{832}\dt{1124}{832}\dt{1124}{858}\dt{1124}{897}
\draw[w] (1124,826) -- (1124,930);
\draw[w] (vcc1) -- (pr4.west);\draw[w] (pr4.east) -- (1124,858);
\draw[w] (1046,862) -- (1046,873) -- (1078,873) -- (1078,897);
\draw[w] (vcc2) -- (pr5.west);\dt{1046}{884}
\draw[w] (1046,884) -- (pr6.north);
\draw[w] (pr6.south) -- (1046,917);
\draw[w] (1010,917) -- (pr7.west);\draw[w] (1010,930) -- (pr8.west);
\draw[w] (pr7.east) -- (1088,917);\dt{1046}{917}
\draw[w] (pr8.east) -- (1088,928);
\draw[w] (1010,942) -- (1036,942) -- (1036,949) -- (pr9.east);
\draw[w] (1010,970) -- (1036,970) -- (1036,962) -- (pra.east);
\draw[w] (1010,949) -- (pr9.west);\draw[w] (1010,962) -- (pra.west);
\draw[bus] (pr9.east) -- (1088,950);\draw[bus] (pra.east) -- (1088,962);
\draw[w] (1116,930) -- (1124,930);
\foreach \yy in {932,938,944,950}{\draw[w] (1124,\yy) -- (1126,\yy+1.5) -- (1124,\yy+3);}
\draw[w] (1124,953) -- (1124,957);\draw[w] (1121,957) -- (1127,957);
\lb{1137}{946}{BATTERY PACK}\lb{1137}{949.5}{BP-DM..}
\lb{1135}{979}{BATTERY}\lb{1135}{983}{BACK UP}
\lb{1114}{974}{3V}
\draw[w] (1118,974) -- (1124,974) -- (1124,987);\draw[w] (1121,987) -- (1127,987);
\end{tikzpicture}
\end{document}
